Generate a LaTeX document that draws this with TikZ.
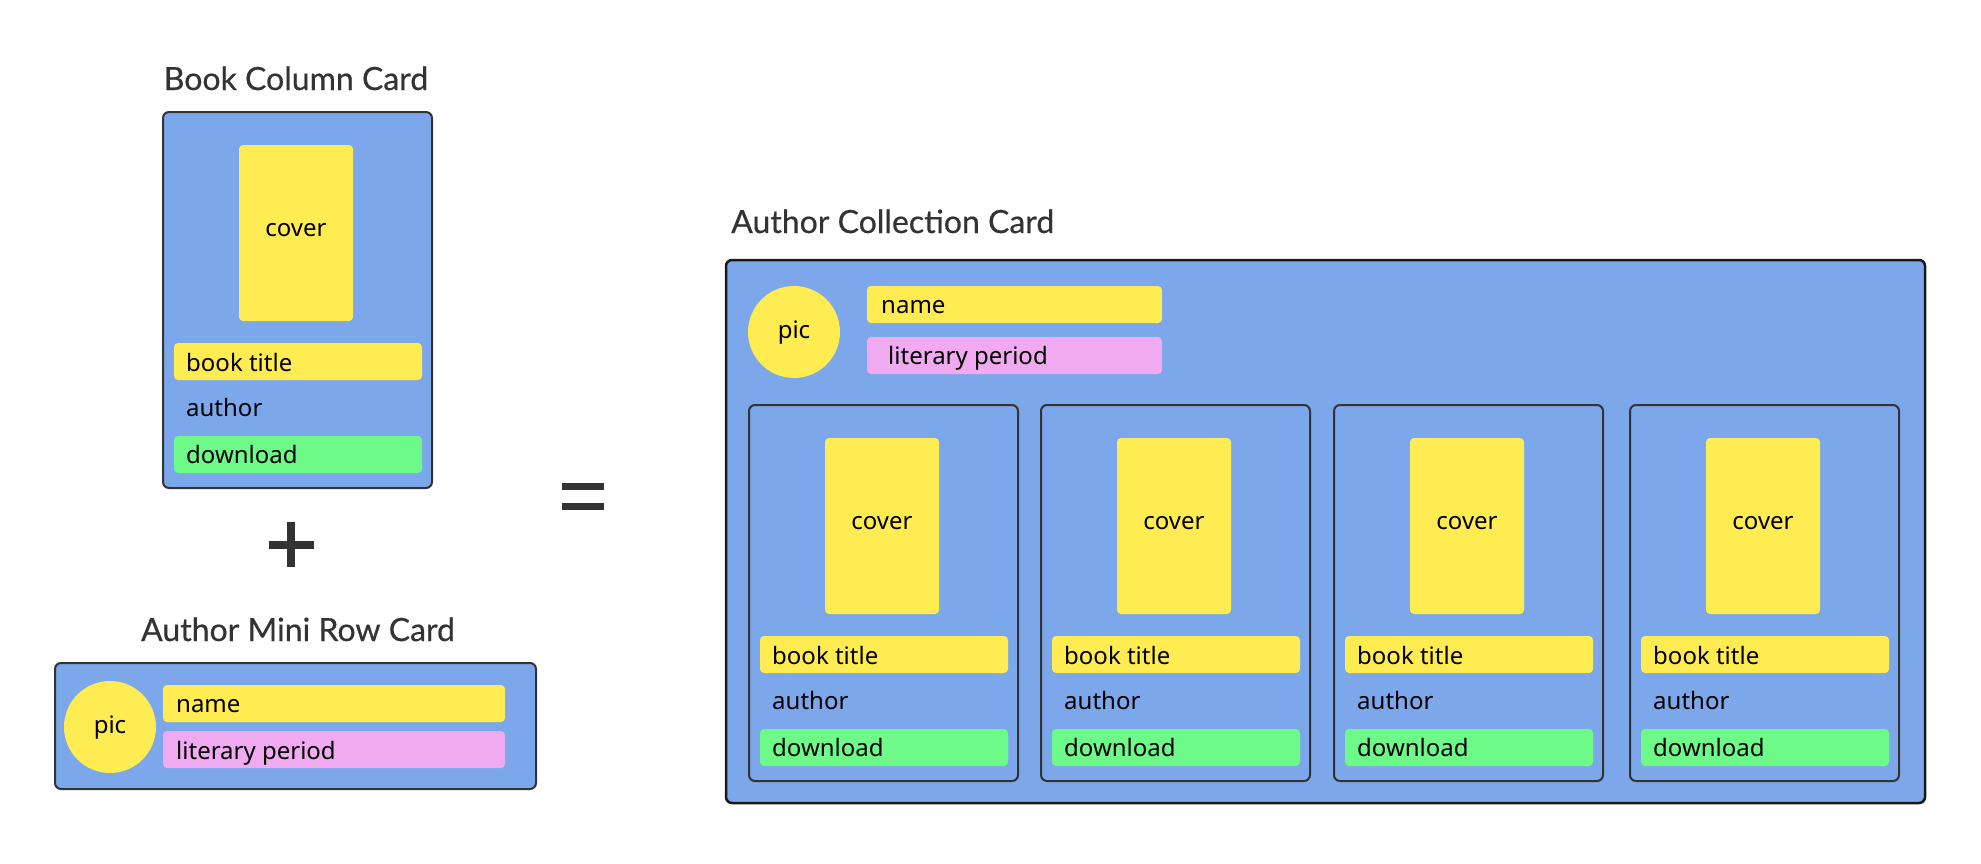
\documentclass[tikz,border=0pt]{standalone}
\usepackage{fontspec}
\setmainfont{Noto Sans}
\newfontfamily\titlefont[FakeBold=0.5]{Lato}
\definecolor{cardblue}{HTML}{7CA7EA}
\definecolor{padyellow}{HTML}{FFEB52}
\definecolor{padgreen}{HTML}{6EFA88}
\definecolor{padpink}{HTML}{F0AAF0}
\definecolor{edgegray}{HTML}{333333}
\definecolor{titlegray}{HTML}{333333}
\tikzset{
  card/.style={draw=edgegray, line width=2pt, fill=cardblue, rounded corners=6pt, anchor=north west, inner sep=0pt, outer sep=0pt},
  pad/.style={rounded corners=4pt, anchor=north west, inner sep=0pt, outer sep=0pt, draw=none},
  picdot/.style={circle, fill=padyellow, minimum size=92pt, inner sep=0pt, draw=none},
  lbl/.style={inner sep=0pt, font=\fontsize{24}{28}\selectfont, text=black},
  ttl/.style={inner sep=0pt, font=\titlefont\fontsize{32}{38}\selectfont, text=titlegray},
  symbar/.style={draw=edgegray, line width=7.5pt},
}
\newcommand{\bookcard}[3]{%
  \begin{scope}[shift={(#2,#3)}]
    \node[card, minimum width=269pt, minimum height=376pt] (#1) at (0,0) {};
    \node[pad, fill=padyellow, minimum width=114pt, minimum height=176pt] (#1cover) at (76,33) {};
    \node[lbl, anchor=base] (#1covertext) at (133,124) {cover};
    \node[pad, fill=padyellow, minimum width=248pt, minimum height=37pt] (#1titlebar) at (11,231) {};
    \node[lbl, anchor=base west] (#1titletext) at (23,259.5) {book title};
    \node[lbl, anchor=base west] (#1author) at (23,304) {author};
    \node[pad, fill=padgreen, minimum width=248pt, minimum height=37pt] (#1dlbar) at (11,324) {};
    \node[lbl, anchor=base west] (#1dltext) at (23,351) {download};
  \end{scope}}
\begin{document}
\begin{tikzpicture}[x=1pt, y=-1pt]
  \useasboundingbox (0,0) rectangle (1981,863);
  % Book Column Card
  \node[ttl, anchor=base] (bcctitle) at (296,90) {Book Column Card};
  \bookcard{bcc}{163}{112}
  % plus
  \coordinate (plusL) at (268.5,545);
  \coordinate (plusR) at (313.5,545);
  \coordinate (plusT) at (291,522);
  \coordinate (plusB) at (291,567);
  \draw[symbar] (plusL) -- (plusR);
  \draw[symbar] (plusT) -- (plusB);
  % Author Mini Row Card
  \node[ttl, anchor=base] (minititle) at (298,641) {Author Mini Row Card};
  \node[card, minimum width=481pt, minimum height=126pt] (mini) at (55,663) {};
  \node[picdot] (minipic) at (110,727) {};
  \node[lbl, anchor=base] (minipictext) at (110,733) {pic};
  \node[pad, fill=padyellow, minimum width=342pt, minimum height=37pt] (mininamebar) at (163,685) {};
  \node[lbl, anchor=base west] (mininame) at (176,712) {name};
  \node[pad, fill=padpink, minimum width=342pt, minimum height=37pt] (miniperiodbar) at (163,731) {};
  \node[lbl, anchor=base west] (miniperiod) at (176,759) {literary period};
  % equals
  \coordinate (eqAL) at (562,486.5);
  \coordinate (eqAR) at (604,486.5);
  \coordinate (eqBL) at (562,506.5);
  \coordinate (eqBR) at (604,506.5);
  \draw[symbar, line width=7pt] (eqAL) -- (eqAR);
  \draw[symbar, line width=7pt] (eqBL) -- (eqBR);
  % Author Collection Card
  \node[ttl, anchor=base west] (acctitle) at (731,233) {Author Collection Card};
  \node[card, draw=black!90, line width=2.5pt, minimum width=1199pt, minimum height=543pt] (acc) at (726,260) {};
  \node[picdot] (accpic) at (794,332) {};
  \node[lbl, anchor=base] (accpictext) at (794,338) {pic};
  \node[pad, fill=padyellow, minimum width=295pt, minimum height=37pt] (accnamebar) at (867,286) {};
  \node[lbl, anchor=base west] (accname) at (881,313) {name};
  \node[pad, fill=padpink, minimum width=295pt, minimum height=37pt] (accperiodbar) at (867,337) {};
  \node[lbl, anchor=base west] (accperiod) at (888,364) {literary period};
  \bookcard{bookA}{749}{405}
  \bookcard{bookB}{1041}{405}
  \bookcard{bookC}{1334}{405}
  \bookcard{bookD}{1630}{405}
\end{tikzpicture}
\end{document}
